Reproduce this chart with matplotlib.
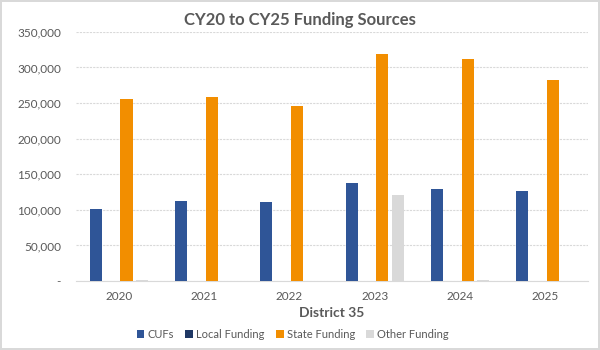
import numpy as np
import matplotlib.pyplot as plt
from matplotlib.ticker import FuncFormatter

years = ["2020", "2021", "2022", "2023", "2024", "2025"]
cufs = [101000, 112300, 110900, 138300, 128900, 127000]
local_funding = [0, 0, 0, 0, 0, 0]
state_funding = [255000, 257800, 246000, 318200, 311600, 281900]
other_funding = [1500, 0, 500, 120900, 2000, 500]

series = ["CUFs", "Local Funding", "State Funding", "Other Funding"]
colors = ["#2F5597", "#1F3864", "#F28E00", "#D9D9D9"]

plt.rcParams['font.family'] = ['Lato', 'DejaVu Sans']

fig = plt.figure(figsize=(6, 3.5), dpi=100)
fig.patch.set_edgecolor("#D9D9D9")
fig.patch.set_linewidth(1.5)
ax = fig.add_axes([0.127, 0.197, 0.853, 0.712])

x = np.arange(len(years))
step = 0.18
width = 0.142
for i, (vals, c, name) in enumerate(zip([cufs, local_funding, state_funding, other_funding], colors, series)):
    ax.bar(x + (i - 1.5) * step, vals, width, color=c, label=name, zorder=3)

ax.set_xlim(-0.5, len(years) - 0.5)
ax.set_ylim(0, 350000)
ax.set_yticks(np.arange(0, 350001, 50000))
ax.yaxis.set_major_formatter(FuncFormatter(lambda v, p: "-" if v == 0 else f"{v:,.0f}"))
ax.set_xticks(x)
ax.set_xticklabels(years)
ax.tick_params(axis="both", length=0, labelsize=8.5, colors="#595959")
ax.tick_params(axis="x", pad=7)
ax.tick_params(axis="y", pad=11)
ax.grid(axis="y", color="#D9D9D9", linewidth=0.8, linestyle=(0, (2, 1)), zorder=0)
for s in ["top", "right", "left"]:
    ax.spines[s].set_visible(False)
ax.spines["bottom"].set_color("#D9D9D9")

ax.set_xlabel("District 35", fontsize=10, fontweight="bold", color="#595959", labelpad=4)
fig.suptitle("CY20 to CY25 Funding Sources", fontsize=12, fontweight="bold", color="#595959", y=0.965)

fig.legend(loc="lower center", bbox_to_anchor=(0.488, 0.0), ncol=4, frameon=False,
           fontsize=8, labelcolor="#595959", handlelength=0.7, handleheight=0.7,
           handletextpad=0.3, columnspacing=1.0)

plt.savefig("out.png", dpi=100)
